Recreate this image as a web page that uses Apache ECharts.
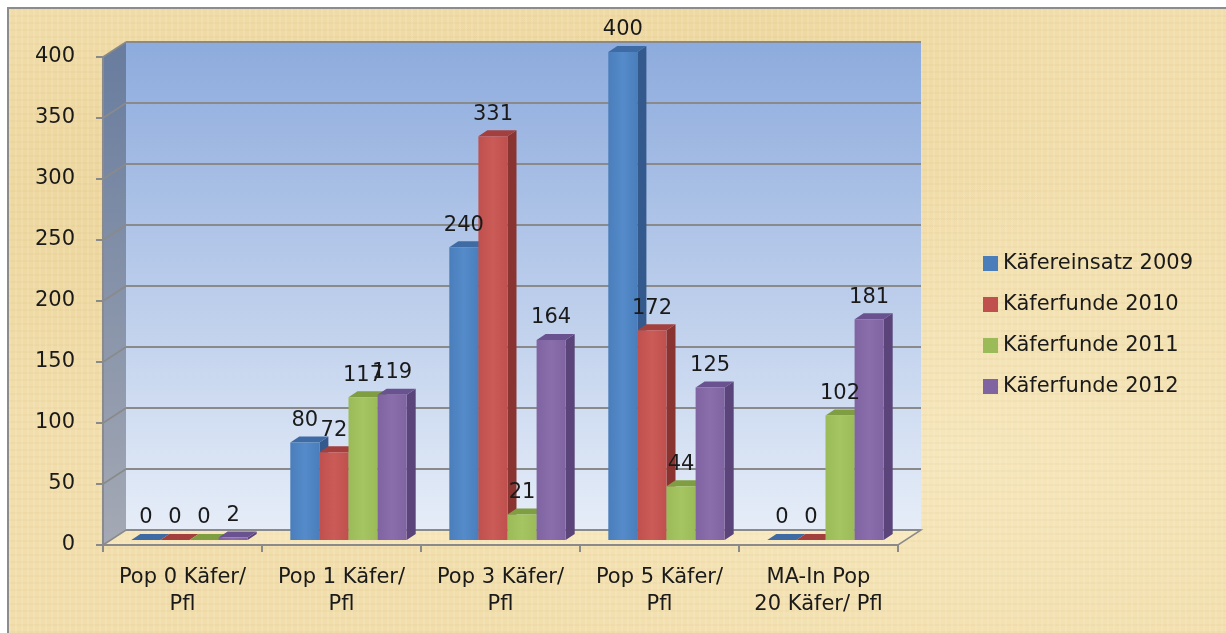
<!DOCTYPE html>
<html>
<head>
<meta charset="utf-8">
<script src="https://cdn.jsdelivr.net/npm/echarts@6/dist/echarts.min.js"></script>
<style>
  html, body { margin: 0; padding: 0; background: #ffffff; }
  #paper {
    position: absolute; left: 7px; top: 7px; width: 1219px; height: 626px;
    box-sizing: border-box;
    border-left: 2px solid #8c8c8c; border-top: 2px solid #8c8c8c;
    background-color: #f1deac;
    background-image:
      repeating-linear-gradient(90deg, rgba(255,250,228,0.12) 0px, rgba(255,250,228,0.12) 2px, rgba(0,0,0,0) 2px, rgba(0,0,0,0) 6px),
      repeating-linear-gradient(0deg, rgba(190,150,70,0.06) 0px, rgba(190,150,70,0.06) 2px, rgba(0,0,0,0) 2px, rgba(0,0,0,0) 7px),
      radial-gradient(ellipse at 22% 30%, rgba(222,186,110,0.30), rgba(0,0,0,0) 40%),
      radial-gradient(ellipse at 78% 72%, rgba(255,246,218,0.35), rgba(0,0,0,0) 45%),
      radial-gradient(ellipse at 60% 10%, rgba(228,196,126,0.25), rgba(0,0,0,0) 35%);
  }
  #chart { position: absolute; left: 0; top: 0; width: 1226px; height: 633px; }
</style>
</head>
<body>
<div id="paper"></div>
<div id="chart"></div>
<script>
// Categories and values per year
const categories = ['Pop 0 Käfer/\nPfl', 'Pop 1 Käfer/\nPfl', 'Pop 3 Käfer/\nPfl', 'Pop 5 Käfer/\nPfl', 'MA-In Pop\n20 Käfer/ Pfl'];
const seriesNames = ['Käfereinsatz 2009', 'Käferfunde 2010', 'Käferfunde 2011', 'Käferfunde 2012'];
const einsatz2009 = [0, 80, 240, 400, 0];
const funde2010 = [0, 72, 331, 172, 0];
const funde2011 = [0, 117, 21, 44, 102];
const funde2012 = [2, 119, 164, 125, 181];
const yMin = 0, yMax = 400, yStep = 50;

const FONT = '"DejaVu Sans", sans-serif';
const FONT_SIZE = 21;
const TEXT_COLOR = '#1a1a1a';
const EDGE = '#8a8a8a';

// shading for each column: front face, side face, top face
const palettes = [
  { front: '#4a7ebb', light: '#558bca', side: '#34598c', top: '#3e6ba4' },
  { front: '#c0504d', light: '#ca5b57', side: '#8a3432', top: '#a3403d' },
  { front: '#9bbb59', light: '#a5c563', side: '#6f8d37', top: '#7f9e42' },
  { front: '#8064a2', light: '#8a6eac', side: '#5a4479', top: '#6a5190' }
];
const seriesValues = [einsatz2009, funde2010, funde2011, funde2012];

// depth of the box: front plane -> back plane offset in px
const DEPTH_DX = 23, DEPTH_DY = -15;
// column depth
const COL_DX = 9, COL_DY = -6;
const BAR_FRAC = 0.183;

const chart = echarts.init(document.getElementById('chart'), null, { renderer: 'canvas' });

function columnRenderer(sIdx) {
  const pal = palettes[sIdx];
  return function (params, api) {
    const cat = api.value(0), val = api.value(1);
    const base = api.coord([cat, 0]);
    const top = api.coord([cat, val]);
    const band = api.size([1, 0])[0];
    const bw = band * BAR_FRAC;
    const x0 = base[0] - 2 * bw + sIdx * bw;
    const x1 = x0 + bw;
    const yT = top[1], yB = base[1];
    return {
      type: 'group',
      children: [
        { type: 'polygon', shape: { points: [[x1, yB], [x1 + COL_DX, yB + COL_DY], [x1 + COL_DX, yT + COL_DY], [x1, yT]] },
          style: { fill: pal.side } },
        { type: 'polygon', shape: { points: [[x0, yT], [x0 + COL_DX, yT + COL_DY], [x1 + COL_DX, yT + COL_DY], [x1, yT]] },
          style: { fill: pal.top } },
        { type: 'rect', shape: { x: x0, y: yT, width: bw, height: Math.max(yB - yT, 0) },
          style: { fill: new echarts.graphic.LinearGradient(0, 0, 1, 0, [
            { offset: 0, color: pal.front }, { offset: 0.5, color: pal.light }, { offset: 1, color: pal.front }]) } }
      ]
    };
  };
}

// value labels for all columns, drawn above the columns
const labelData = [];
seriesValues.forEach((arr, s) => arr.forEach((v, c) => labelData.push([c, v, s])));

function labelRenderer(params, api) {
  const cat = api.value(0), val = api.value(1), s = api.value(2);
  const base = api.coord([cat, 0]);
  const top = api.coord([cat, val]);
  const bw = api.size([1, 0])[0] * BAR_FRAC;
  const cx = base[0] - 2 * bw + s * bw + bw / 2;
  return {
    type: 'text',
    style: { text: String(val), x: cx, y: top[1] - 22, align: 'center', verticalAlign: 'middle',
      font: FONT_SIZE + 'px ' + FONT, fill: TEXT_COLOR }
  };
}

// back wall, side wall and floor of the plot box (drawn on the back plane grid)
function boxRenderer(params, api) {
  const bTL = api.coord([0, yMax]);
  const bBR = api.coord([1, yMin]);
  const bBL = [bTL[0], bBR[1]];
  const f = (p) => [p[0] - DEPTH_DX, p[1] - DEPTH_DY];
  const children = [];
  // back wall
  children.push({ type: 'rect', shape: { x: bTL[0], y: bTL[1], width: bBR[0] - bTL[0], height: bBR[1] - bTL[1] },
    style: { fill: new echarts.graphic.LinearGradient(0, 0, 0, 1, [
      { offset: 0, color: '#8dabdd' }, { offset: 1, color: '#e6edf8' }]) } });
  // side wall
  const fTL = f(bTL), fBL = f(bBL);
  children.push({ type: 'polygon', shape: { points: [fTL, bTL, bBL, fBL] },
    style: { fill: new echarts.graphic.LinearGradient(0, 0, 0, 1, [
      { offset: 0, color: '#687c9e' }, { offset: 1, color: '#a4a9b4' }]) } });
  // gridlines across the side wall
  for (let v = yMin + yStep; v <= yMax; v += yStep) {
    const b = api.coord([0, v]);
    const fp = f(b);
    children.push({ type: 'line', shape: { x1: fp[0], y1: fp[1], x2: b[0], y2: b[1] },
      style: { stroke: EDGE, lineWidth: 1.5 } });
  }
  // floor
  const bBRp = [bBR[0], bBR[1]];
  children.push({ type: 'polygon', shape: { points: [fBL, bBL, bBRp, f(bBRp)] },
    style: { fill: 'rgba(255,244,212,0.35)', stroke: EDGE, lineWidth: 1.5 } });
  return { type: 'group', children: children };
}

const option = {
  animation: false,
  backgroundColor: 'transparent',
  textStyle: { fontFamily: FONT },
  legend: {
    data: seriesNames, orient: 'vertical', left: 978, top: 248,
    icon: 'rect', itemWidth: 15, itemHeight: 15, itemGap: 20,
    textStyle: { fontSize: FONT_SIZE, color: TEXT_COLOR, fontFamily: FONT }
  },
  grid: [
    // front plane: axes and labels
    { left: 103, top: 57, width: 795, height: 488 },
    // back plane: walls and gridlines
    { left: 126, top: 42, width: 795, height: 488 },
    // column plane
    { left: 110, top: 52, width: 795, height: 488 }
  ],
  xAxis: [
    { gridIndex: 0, type: 'category', data: categories,
      axisLine: { show: true, lineStyle: { color: EDGE, width: 2 } },
      axisTick: { show: true, length: 7, lineStyle: { color: EDGE, width: 2 } },
      axisLabel: { color: TEXT_COLOR, fontSize: FONT_SIZE, margin: 19, lineHeight: 27, interval: 0, fontFamily: FONT } },
    { gridIndex: 1, type: 'value', min: 0, max: 1, show: false },
    { gridIndex: 2, type: 'category', data: categories, show: false }
  ],
  yAxis: [
    { gridIndex: 0, type: 'value', min: yMin, max: yMax, interval: yStep,
      axisLine: { show: true, lineStyle: { color: EDGE, width: 2 } },
      axisTick: { show: true, length: 7, lineStyle: { color: EDGE, width: 2 } },
      axisLabel: { color: TEXT_COLOR, fontSize: FONT_SIZE, margin: 28, fontFamily: FONT },
      splitLine: { show: false } },
    { gridIndex: 1, type: 'value', min: yMin, max: yMax, interval: yStep,
      axisLine: { show: false }, axisTick: { show: false }, axisLabel: { show: false },
      splitLine: { show: true, lineStyle: { color: EDGE, width: 2 } }, z: 1 },
    { gridIndex: 2, type: 'value', min: yMin, max: yMax, interval: yStep, show: false, splitLine: { show: false } }
  ],
  series: [
    { type: 'custom', name: 'box', xAxisIndex: 1, yAxisIndex: 1, data: [[0]], renderItem: boxRenderer, z: 0, silent: true }
  ].concat(seriesNames.map((name, s) => ({
    type: 'custom', name: name, xAxisIndex: 2, yAxisIndex: 2,
    itemStyle: { color: palettes[s].front },
    data: seriesValues[s].map((v, c) => [c, v]),
    renderItem: columnRenderer(s), z: 3
  }))).concat([
    { type: 'custom', name: 'labels', xAxisIndex: 2, yAxisIndex: 2, data: labelData,
      renderItem: labelRenderer, z: 5, silent: true }
  ])
};
chart.setOption(option);
</script>
</body>
</html>
